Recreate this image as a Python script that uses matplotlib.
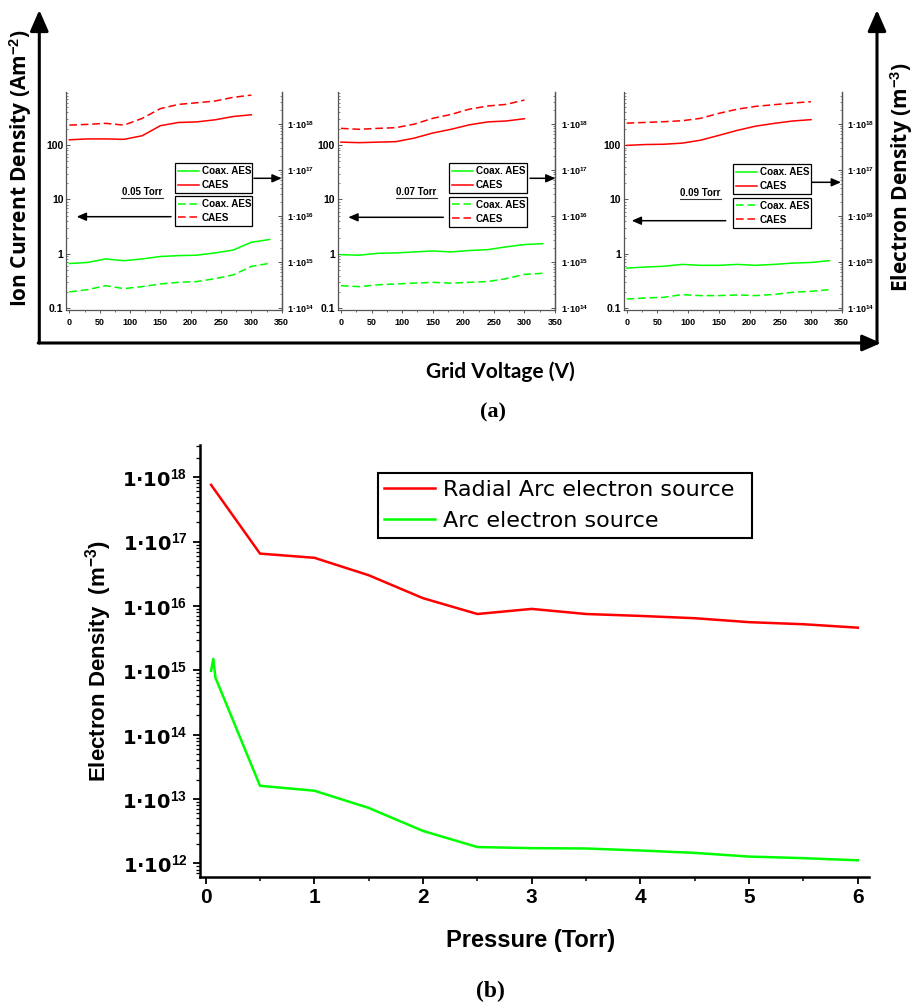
import matplotlib
matplotlib.use('Agg')
import matplotlib.pyplot as plt
from matplotlib.ticker import LogLocator, FuncFormatter, MultipleLocator, NullFormatter
from matplotlib.patches import FancyArrowPatch
from matplotlib.lines import Line2D
from matplotlib import font_manager as fm

# ---------------- data ----------------
volt_caes = [0, 30, 60, 90, 120, 150, 180, 210, 240, 270, 300]
volt_coax = [0, 30, 60, 90, 120, 150, 180, 210, 240, 270, 300, 330]

# 0.05 Torr
p005_caes_ion = [233, 240, 251, 233, 309, 468, 560, 600, 645, 755, 830]
p005_caes_ne = [4.5e17, 4.7e17, 4.7e17, 4.6e17, 5.5e17, 9.1e17, 1.07e18, 1.10e18, 1.22e18, 1.44e18, 1.57e18]
p005_coax_ion = [0.20, 0.22, 0.26, 0.23, 0.25, 0.28, 0.30, 0.31, 0.35, 0.41, 0.59, 0.67]
p005_coax_ne = [9.3e14, 9.8e14, 1.17e15, 1.07e15, 1.17e15, 1.32e15, 1.38e15, 1.41e15, 1.58e15, 1.82e15, 2.69e15, 3.09e15]

# 0.07 Torr
p007_caes_ion = [203, 195, 203, 209, 243, 310, 366, 458, 523, 560, 673]
p007_caes_ne = [4.0e17, 3.9e17, 4.0e17, 4.1e17, 4.9e17, 6.3e17, 7.6e17, 9.5e17, 1.10e18, 1.15e18, 1.29e18]
p007_coax_ion = [0.26, 0.25, 0.27, 0.28, 0.29, 0.30, 0.29, 0.30, 0.31, 0.35, 0.42, 0.44]
p007_coax_ne = [1.45e15, 1.41e15, 1.55e15, 1.58e15, 1.66e15, 1.74e15, 1.66e15, 1.78e15, 1.86e15, 2.14e15, 2.40e15, 2.51e15]

# 0.09 Torr
p009_caes_ion = [253, 261, 269, 280, 310, 383, 457, 515, 553, 593, 627]
p009_caes_ne = [3.4e17, 3.55e17, 3.6e17, 3.8e17, 4.4e17, 5.6e17, 7.2e17, 8.9e17, 1.02e18, 1.15e18, 1.23e18]
p009_coax_ion = [0.148, 0.155, 0.159, 0.178, 0.171, 0.171, 0.176, 0.171, 0.18, 0.197, 0.205, 0.22]
p009_coax_ne = [7.4e14, 7.8e14, 8.1e14, 8.9e14, 8.5e14, 8.5e14, 8.9e14, 8.5e14, 8.9e14, 9.5e14, 9.8e14, 1.07e15]

pressure_labels = ['0.05 Torr', '0.07 Torr', '0.09 Torr']
series_labels = ['Coax. AES', 'CAES']

# panel (b)
pressure_radial = [0.05, 0.5, 1.0, 1.5, 2.0, 2.5, 3.0, 3.5, 4.0, 4.5, 5.0, 5.5, 6.0]
ne_radial = [7.6e17, 6.5e16, 5.6e16, 3.0e16, 1.32e16, 7.5e15, 9.0e15, 7.5e15, 7.0e15, 6.45e15, 5.6e15, 5.2e15, 4.6e15]
pressure_arc = [0.05, 0.07, 0.09, 0.5, 1.0, 1.5, 2.0, 2.5, 3.0, 3.5, 4.0, 4.5, 5.0, 5.5, 6.0]
ne_arc = [9.8e14, 1.51e15, 7.7e14, 1.61e13, 1.35e13, 7.3e12, 3.2e12, 1.8e12, 1.73e12, 1.71e12,
          1.59e12, 1.46e12, 1.28e12, 1.21e12, 1.12e12]
legend_b = ['Radial Arc electron source', 'Arc electron source']

# ---------------- fonts ----------------
names = {f.name for f in fm.fontManager.ttflist}
def pick(*c):
    for n in c:
        if n in names:
            return n
    return 'DejaVu Sans'
SANS = pick('Liberation Sans', 'Arial')
SERIF = pick('Liberation Serif', 'DejaVu Serif')
OPEN = pick('Open Sans', SANS)
LATO = pick('Lato', SANS)

plt.rcParams['font.family'] = [SANS, 'DejaVu Sans']
plt.rcParams['font.weight'] = 'bold'
plt.rcParams['mathtext.fontset'] = 'custom'
plt.rcParams['mathtext.rm'] = SANS + ':bold'
plt.rcParams['mathtext.bf'] = SANS + ':bold'
plt.rcParams['mathtext.it'] = SANS + ':bold:italic'
plt.rcParams['mathtext.default'] = 'rm'

RED = '#ff0000'
GREEN = '#00ff00'
GRAY = '#555555'

W, H = 914, 1006
fig = plt.figure(figsize=(W / 100, H / 100), dpi=100)

def fx(x):
    return x / W
def fy(y):
    return 1 - y / H
def rect(l, t, r, b):
    return [l / W, 1 - b / H, (r - l) / W, (b - t) / H]

def arrow(x0, y0, x1, y1, lw, ms):
    fig.add_artist(FancyArrowPatch((fx(x0), fy(y0)), (fx(x1), fy(y1)),
                                   transform=fig.transFigure,
                                   arrowstyle='-|>,head_length=0.8,head_width=0.35',
                                   mutation_scale=ms, lw=lw, color='black',
                                   shrinkA=0, shrinkB=0))

def sci_fmt(v, p):
    import math
    e = int(round(math.log10(v)))
    return '1\u00b710$^{%d}$' % e

def plain_fmt(v, p):
    return '%g' % v

# ---------------- panel (a) ----------------
layout = [
    dict(r=(66.3, 92, 281.7, 310), box=(175, 163.3, 251.7, 196, 230), torr=(142, 191.7),
         arr_r=(254, 178.3, 281.7), arr_l=(171, 216.7, 76.7)),
    dict(r=(337.9, 92, 555.0, 310), box=(449, 163.3, 527.3, 196.7, 230), torr=(416, 191.7),
         arr_r=(530, 178.3, 555.5), arr_l=(443.3, 217.3, 348.3)),
    dict(r=(623.6, 92, 841.7, 310), box=(733.3, 164.3, 810.7, 197.7, 230.7), torr=(700, 192.7),
         arr_r=(811.7, 182.3, 841.0), arr_l=(725.7, 220.7, 631.7)),
]
data = [
    (p005_coax_ion, p005_caes_ion, p005_coax_ne, p005_caes_ne),
    (p007_coax_ion, p007_caes_ion, p007_coax_ne, p007_caes_ne),
    (p009_coax_ion, p009_caes_ion, p009_coax_ne, p009_caes_ne),
]

small = 6.5
for lay, (coax_ion, caes_ion, coax_ne, caes_ne), tl in zip(layout, data, pressure_labels):
    ax = fig.add_axes(rect(*lay['r']))
    axr = ax.twinx()
    ax.set_xlim(-5, 350)
    ax.set_yscale('log')
    ax.set_ylim(0.093, 946)
    axr.set_yscale('log')
    axr.set_ylim(10 ** 13.96, 10 ** 18.69)

    d_coax, = ax.plot(volt_coax, coax_ion, color=GREEN, lw=1.1, dashes=(5, 2.5))
    d_caes, = ax.plot(volt_caes, caes_ion, color=RED, lw=1.1, dashes=(5, 2.5))
    s_coax, = axr.plot(volt_coax, coax_ne, color=GREEN, lw=1.1)
    s_caes, = axr.plot(volt_caes, caes_ne, color=RED, lw=1.1)

    for a in (ax, axr):
        a.spines['top'].set_visible(False)
        for s in a.spines.values():
            s.set_color(GRAY)
            s.set_linewidth(0.9)
    axr.spines['left'].set_visible(False)
    axr.spines['bottom'].set_visible(False)

    ax.xaxis.set_major_locator(MultipleLocator(50))
    ax.xaxis.set_minor_locator(MultipleLocator(25))
    ax.yaxis.set_major_locator(LogLocator(base=10, numticks=10))
    ax.yaxis.set_minor_locator(LogLocator(base=10, subs=range(2, 10), numticks=10))
    ax.yaxis.set_major_formatter(FuncFormatter(plain_fmt))
    ax.yaxis.set_minor_formatter(NullFormatter())
    axr.yaxis.set_major_locator(LogLocator(base=10, numticks=10))
    axr.yaxis.set_minor_locator(LogLocator(base=10, subs=range(2, 10), numticks=10))
    axr.yaxis.set_major_formatter(FuncFormatter(sci_fmt))
    axr.yaxis.set_minor_formatter(NullFormatter())

    ax.tick_params(axis='x', which='major', direction='out', length=2.5, width=0.7, color=GRAY,
                   labelsize=small, pad=3)
    ax.tick_params(axis='x', which='minor', direction='out', length=1.5, width=0.6, color=GRAY)
    ax.tick_params(axis='y', which='major', direction='in', length=3, width=0.7, color=GRAY,
                   labelsize=7.5, pad=2)
    ax.tick_params(axis='y', which='minor', direction='in', length=1.5, width=0.5, color=GRAY)
    axr.tick_params(axis='y', which='major', direction='in', length=3, width=0.7, color=GRAY,
                    labelsize=small, pad=4)
    axr.tick_params(axis='y', which='minor', direction='in', length=1.5, width=0.5, color=GRAY)

    bl, bt, br, bm, bb = lay['box']
    prop = dict(family=SANS, weight='bold', size=7.1)
    leg_kw = dict(loc='upper left', mode='expand', borderaxespad=0, fancybox=False,
                  edgecolor='black', framealpha=1, prop=prop, handlelength=2.1,
                  handletextpad=0.3, borderpad=0.32, labelspacing=0.38,
                  bbox_transform=fig.transFigure)
    leg1 = axr.legend([s_coax, s_caes], series_labels,
                      bbox_to_anchor=(fx(bl), fy(bt) - (bm - bt) / H, (br - bl) / W, (bm - bt) / H),
                      **leg_kw)
    leg1.get_frame().set_linewidth(0.9)
    axr.add_artist(leg1)
    leg2 = axr.legend([d_coax, d_caes], series_labels,
                      bbox_to_anchor=(fx(bl), fy(bm) - (bb - bm) / H, (br - bl) / W, (bb - bm) / H),
                      **leg_kw)
    leg2.get_frame().set_linewidth(0.9)

    tx, ty = lay['torr']
    fig.text(fx(tx), fy(ty), tl, ha='center', va='center', fontsize=7, family=SANS,
             weight='bold')
    fig.add_artist(Line2D([fx(tx - 20.5), fx(tx + 20.5)], [fy(ty + 6), fy(ty + 6)],
                          transform=fig.transFigure, color='#333333', lw=0.8))

    x0, y0, x1 = lay['arr_r']
    arrow(x0, y0, x1, y0, 1.1, 7)
    x0, y0, x1 = lay['arr_l']
    arrow(x0, y0, x1, y0, 1.1, 7)

# outer frame arrows for (a)
arrow(39.3, 343, 39.3, 10, 2.2, 16)
arrow(877, 343, 877, 10, 2.2, 16)
arrow(38.2, 343, 881, 343, 2.2, 14)

fig.text(fx(21), fy(168), 'Ion Current Density (Am$^{-2}$)', rotation=90, ha='center',
         va='center', family=OPEN, weight='bold', fontsize=15)
fig.text(fx(901.7), fy(177), 'Electron Density (m$^{-3}$)', rotation=90, ha='center',
         va='center', family=OPEN, weight='bold', fontsize=15)
fig.text(fx(500), fy(372), 'Grid Voltage (V)', ha='center', va='center', family=LATO,
         weight='bold', fontsize=15)
fig.text(fx(493), fy(412), '(a)', ha='center', va='center', family=SERIF, weight='bold',
         fontsize=16)

# ---------------- panel (b) ----------------
axb = fig.add_axes(rect(200, 445, 869, 877))
axb.set_xlim(-0.052, 6.103)
axb.set_yscale('log')
axb.set_ylim(10 ** 11.79, 10 ** 18.5)
l1, = axb.plot(pressure_radial, ne_radial, color=RED, lw=1.8)
l2, = axb.plot(pressure_arc, ne_arc, color=GREEN, lw=1.8)

axb.spines['top'].set_visible(False)
axb.spines['right'].set_visible(False)
for s in ('left', 'bottom'):
    axb.spines[s].set_linewidth(1.8)

axb.xaxis.set_major_locator(MultipleLocator(1))
axb.xaxis.set_minor_locator(MultipleLocator(0.5))
axb.yaxis.set_major_locator(LogLocator(base=10, numticks=12))
axb.yaxis.set_minor_locator(LogLocator(base=10, subs=range(2, 10), numticks=12))
axb.yaxis.set_major_formatter(FuncFormatter(sci_fmt))
axb.yaxis.set_minor_formatter(NullFormatter())
axb.tick_params(axis='x', which='major', direction='out', length=5, width=1.3, labelsize=15,
                pad=3)
axb.tick_params(axis='x', which='minor', direction='out', length=3, width=1.1)
axb.tick_params(axis='y', which='major', direction='out', length=5, width=1.3, labelsize=14,
                pad=4, labelfontfamily='DejaVu Sans')
axb.tick_params(axis='y', which='minor', direction='out', length=3, width=0.9)

axb.set_ylabel('Electron Density  (m$^{-3}$)', fontsize=16, family=SANS, weight='bold')
axb.yaxis.set_label_coords((114 - 200) / 669, 0.5)
axb.set_xlabel('Pressure (Torr)', fontsize=17, family=SANS, weight='bold')
axb.xaxis.set_label_coords(0.5 - 3.5 / 669, -(929 - 877) / 432)

legb = axb.legend([l1, l2], legend_b, loc='upper left', mode='expand',
                  bbox_to_anchor=(fx(377.7), fy(473.3) - 65 / H, 374.3 / W, 65 / H),
                  bbox_transform=fig.transFigure, borderaxespad=0, fancybox=False,
                  edgecolor='black', framealpha=1,
                  prop=dict(family='DejaVu Sans', weight='normal', size=16),
                  handlelength=2.28, handletextpad=0.34, borderpad=0.3, labelspacing=0.5)
legb.get_frame().set_linewidth(1.5)

fig.text(fx(490), fy(991), '(b)', ha='center', va='center', family=SERIF, weight='bold',
         fontsize=17)

fig.savefig('out.png', dpi=100)
